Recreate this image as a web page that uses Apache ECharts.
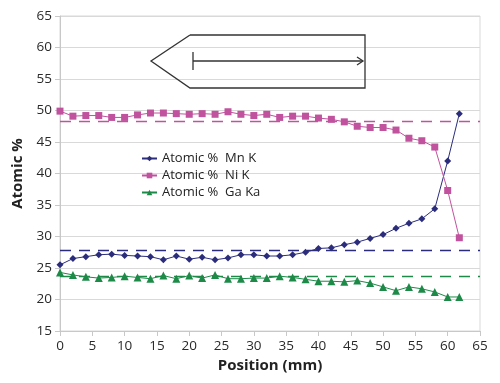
<!DOCTYPE html>
<html>
<head>
<meta charset="utf-8">
<script src="https://cdn.jsdelivr.net/npm/echarts@6/dist/echarts.min.js"></script>
<style>html,body{margin:0;padding:0;background:#fff}#c{width:500px;height:383px}</style>
</head>
<body>
<div id="c"></div>
<script>
var positions = [0,2,4,6,8,10,12,14,16,18,20,22,24,26,28,30,32,34,36,38,40,42,44,46,48,50,52,54,56,58,60,61.8];
var mnK = [25.5,26.5,26.8,27.1,27.2,27.0,26.9,26.8,26.3,26.9,26.4,26.7,26.3,26.6,27.1,27.1,26.9,26.9,27.1,27.5,28.1,28.2,28.7,29.1,29.7,30.3,31.3,32.1,32.8,34.4,42.0,49.5];
var niK = [49.9,49.1,49.2,49.2,48.9,48.9,49.3,49.6,49.6,49.5,49.4,49.5,49.4,49.8,49.4,49.2,49.4,48.9,49.1,49.1,48.8,48.6,48.2,47.5,47.3,47.3,46.9,45.6,45.2,44.2,37.3,29.8];
var gaKa = [24.3,23.9,23.6,23.4,23.5,23.7,23.5,23.3,23.8,23.3,23.8,23.4,23.9,23.3,23.3,23.4,23.4,23.7,23.5,23.2,22.9,22.9,22.8,23.0,22.6,22.0,21.4,22.0,21.7,21.2,20.4,20.4];
var seriesNames = ['Atomic %  Mn K','Atomic %  Ni K','Atomic %  Ga Ka'];
var nominal = [27.75, 48.25, 23.65];
var xTicks = [0,5,10,15,20,25,30,35,40,45,50,55,60,65];
var yTicks = [15,20,25,30,35,40,45,50,55,60,65];

var colors = ['#2b2d7c','#c0529e','#1d8a48'];
var symbols = ['diamond','rect','triangle'];
var symSizes = [7,7,8];
var dataSets = [mnK, niK, gaKa];

function pairs(ys){ return positions.map(function(x,i){return [x, ys[i]];}); }

var series = dataSets.map(function(ys, k){
  return {
    name: seriesNames[k], type:'line', data: pairs(ys),
    symbol: symbols[k], symbolSize: symSizes[k],
    itemStyle:{color:colors[k]}, lineStyle:{color:colors[k], width:1},
    z: 3 + k,
    markLine:{
      silent:true, symbol:['none','none'], label:{show:false},
      lineStyle:{color:colors[k], type:[11,8], width:1.3},
      data:[[{coord:[xTicks[0], nominal[k]]},{coord:[xTicks[xTicks.length-1], nominal[k]]}]]
    }
  };
});

var chart = echarts.init(document.getElementById('c'), null, {renderer:'canvas'});
var font = 'Open Sans, Noto Sans, sans-serif';
chart.setOption({
  animation:false,
  textStyle:{fontFamily:font},
  grid:{left:60, right:20, top:16, bottom:52, show:true, borderColor:'#d9d9d9', borderWidth:1},
  xAxis:{
    type:'value', min:xTicks[0], max:xTicks[xTicks.length-1], interval:5,
    name:'Position (mm)', nameLocation:'middle', nameGap:26,
    nameTextStyle:{fontSize:15, fontWeight:'bold', color:'#222', fontFamily:font},
    axisLine:{lineStyle:{color:'#c8c8c8'}},
    axisTick:{show:true, length:5, lineStyle:{color:'#c8c8c8'}},
    axisLabel:{color:'#2a2a2a', fontSize:13.5, margin:8},
    splitLine:{show:false}
  },
  yAxis:{
    type:'value', min:yTicks[0], max:yTicks[yTicks.length-1], interval:5,
    name:'Atomic %', nameLocation:'middle', nameGap:35,
    nameTextStyle:{fontSize:15, fontWeight:'bold', color:'#222', fontFamily:font},
    axisLine:{show:true, lineStyle:{color:'#c8c8c8'}},
    axisTick:{show:true, length:5, lineStyle:{color:'#c8c8c8'}},
    axisLabel:{color:'#2a2a2a', fontSize:13.5, margin:8},
    splitLine:{show:true, lineStyle:{color:'#d9d9d9', width:1.2}}
  },
  legend:{
    orient:'vertical', left:136, top:147, itemGap:4, itemWidth:15, itemHeight:7,
    textStyle:{fontSize:13, color:'#222', fontFamily:font},
    data:seriesNames
  },
  graphic:[
    {type:'polyline', shape:{points:[[190,35],[151,61],[190,88],[365,88],[365,35],[190,35]]}, style:{stroke:'#333', lineWidth:1.3, fill:null}, z:10},
    {type:'line', shape:{x1:193,y1:52,x2:193,y2:70}, style:{stroke:'#333', lineWidth:1.3}, z:10},
    {type:'line', shape:{x1:193,y1:61,x2:363,y2:61}, style:{stroke:'#333', lineWidth:1.3}, z:10},
    {type:'polyline', shape:{points:[[357,57],[363,61],[357,65]]}, style:{stroke:'#333', lineWidth:1.3, fill:null}, z:10}
  ],
  series:series
});
</script>
</body>
</html>
